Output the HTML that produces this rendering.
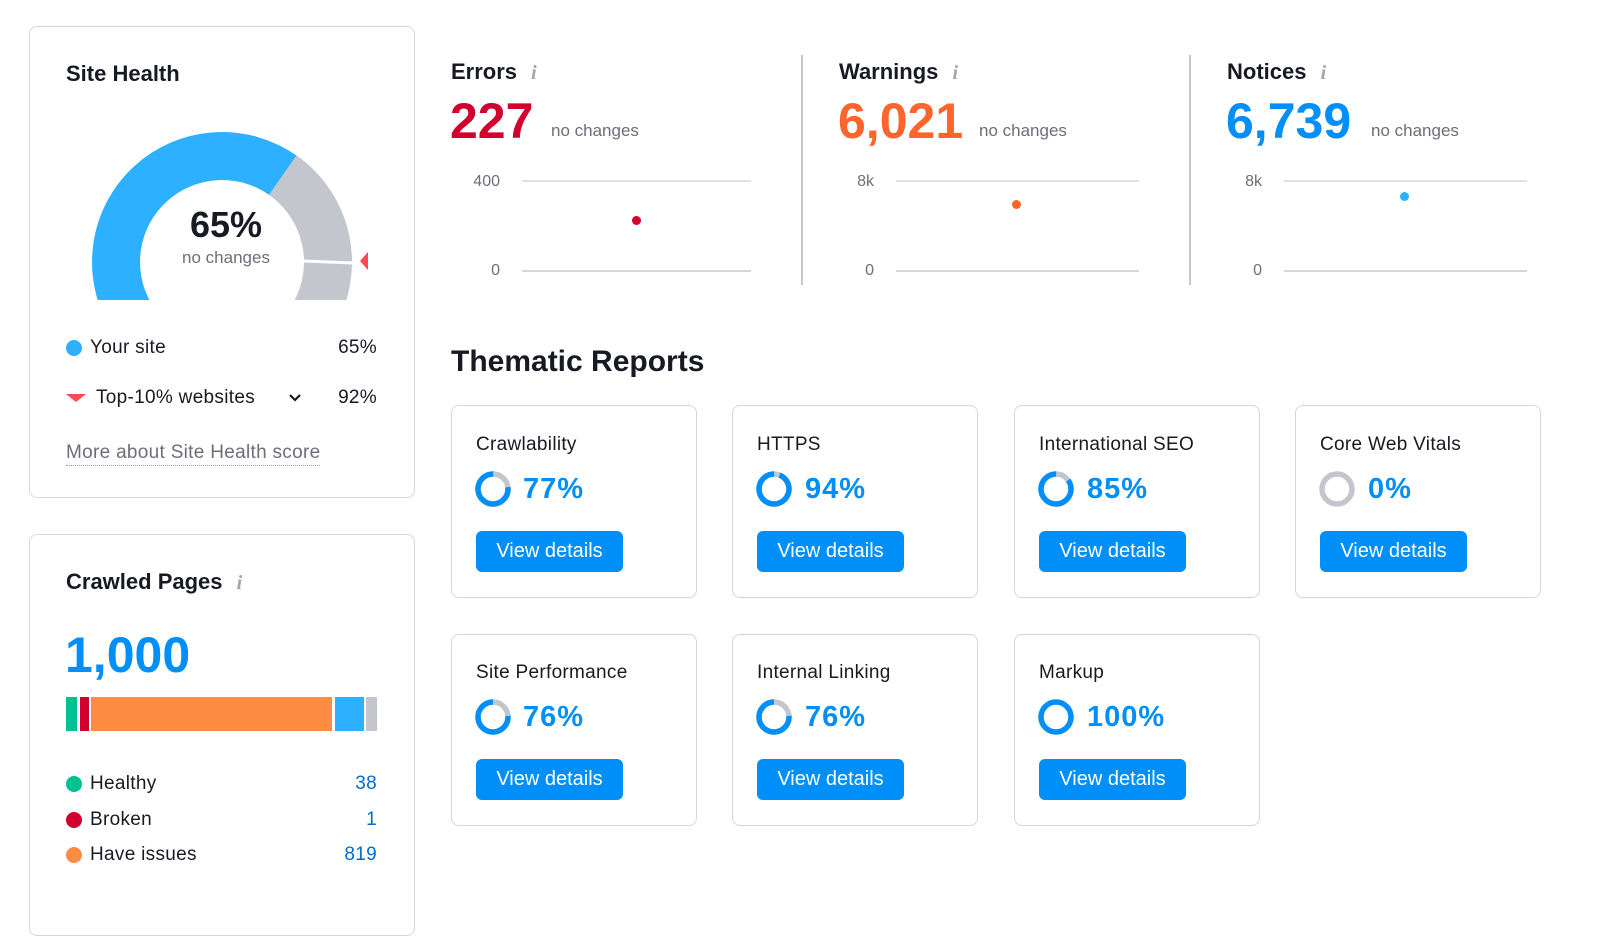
<!DOCTYPE html>
<html><head><meta charset="utf-8"><style>
body{margin:0;width:1600px;height:903px;background:#fff;position:relative;overflow:hidden;font-family:"Liberation Sans",sans-serif;color:#171a22}
.a{position:absolute;white-space:nowrap}
.box{position:absolute;border:1px solid #d6d7dc;border-radius:8px;background:#fff}
.h{font-weight:bold;font-size:22px;line-height:24px}
.g{color:#6c6e79}
.i{font-family:"Liberation Serif",serif;font-style:italic;color:#a3a5ad;font-size:20px}
.btn{position:absolute;background:#008ff8;color:#fff;border-radius:6px;font-size:20px;line-height:41px;text-align:center;width:147px}
.pct{font-size:29px;font-weight:bold;color:#008ff8;line-height:32px;letter-spacing:1px}
.t{font-size:19px;line-height:22px;letter-spacing:0.3px}
</style></head><body>
<div class="box" style="left:29px;top:26px;width:384px;height:470px"></div>
<div class="box" style="left:29px;top:534px;width:384px;height:400px"></div>
<div class="a h" style="left:66px;top:62px">Site Health</div>
<svg class="a" style="left:0;top:0" width="420" height="320">
<defs><clipPath id="c"><rect x="0" y="0" width="420" height="300"/></clipPath></defs>
<g clip-path="url(#c)" fill="none" stroke-width="48">
<path d="M130.2 315 A106 106 0 0 1 282.8 175.2" stroke="#2cb0ff"/>
<path d="M282.8 175.2 A106 106 0 0 1 313.8 315" stroke="#c4c6cd"/>
</g>
<line x1="304" y1="261" x2="353" y2="263" stroke="#fff" stroke-width="3"/>
<polygon points="360,261 368,252 368,270" fill="#ff4953"/>
</svg>
<div class="a" style="left:126px;width:200px;text-align:center;top:205px;font-size:36px;font-weight:bold;line-height:40px">65%</div>
<div class="a g" style="left:126px;width:200px;text-align:center;top:248px;font-size:17px;line-height:20px">no changes</div>
<div class="a" style="left:66px;top:340px;width:16px;height:16px;border-radius:50%;background:#2cb0ff"></div>
<div class="a t" style="left:90px;top:337px">Your site</div>
<div class="a t" style="left:300px;width:77px;text-align:right;top:337px">65%</div>
<svg class="a" style="left:66px;top:393px" width="20" height="12"><polygon points="0,1 20,1 10,9" fill="#ff4953"/></svg>
<div class="a t" style="left:96px;top:387px">Top-10% websites</div>
<svg class="a" style="left:288px;top:393px" width="14" height="10"><polyline points="2,2 7,7 12,2" fill="none" stroke="#171a22" stroke-width="2.2"/></svg>
<div class="a t" style="left:300px;width:77px;text-align:right;top:387px">92%</div>
<div class="a t g" style="left:66px;top:442px;border-bottom:1.5px dotted #9a9ca5;padding-bottom:1px">More about Site Health score</div>
<div class="a h" style="left:66px;top:570px">Crawled Pages <span class="i" style="margin-left:8px">i</span></div>
<div class="a" style="left:65px;top:628px;font-size:50px;font-weight:bold;color:#008ff8;line-height:54px">1,000</div>
<div class="a" style="left:66px;top:697px;width:11px;height:34px;background:#00c192"></div>
<div class="a" style="left:80px;top:697px;width:9px;height:34px;background:#d1002f"></div>
<div class="a" style="left:91px;top:697px;width:241px;height:34px;background:#ff8c43"></div>
<div class="a" style="left:335px;top:697px;width:29px;height:34px;background:#2cb0ff"></div>
<div class="a" style="left:366px;top:697px;width:11px;height:34px;background:#c4c6cd"></div>
<div class="a" style="left:66px;top:776px;width:16px;height:16px;border-radius:50%;background:#00c192"></div>
<div class="a t" style="left:90px;top:773px">Healthy</div>
<div class="a t" style="left:300px;width:77px;text-align:right;top:773px;color:#006dca">38</div>
<div class="a" style="left:66px;top:812px;width:16px;height:16px;border-radius:50%;background:#d1002f"></div>
<div class="a t" style="left:90px;top:809px">Broken</div>
<div class="a t" style="left:300px;width:77px;text-align:right;top:809px;color:#006dca">1</div>
<div class="a" style="left:66px;top:847px;width:16px;height:16px;border-radius:50%;background:#ff8c43"></div>
<div class="a t" style="left:90px;top:844px">Have issues</div>
<div class="a t" style="left:300px;width:77px;text-align:right;top:844px;color:#006dca">819</div>

<!-- top metrics -->
<div class="a" style="left:801px;top:55px;width:2px;height:230px;background:#c4c6cd"></div>
<div class="a" style="left:1189px;top:55px;width:2px;height:230px;background:#c4c6cd"></div>

<div class="a h" style="left:451px;top:60px">Errors <span class="i" style="margin-left:8px">i</span></div>
<div class="a" style="left:450px;top:94px;font-size:50px;font-weight:bold;color:#d1002f;line-height:54px">227</div>
<div class="a g" style="left:551px;top:121px;font-size:17px;line-height:20px">no changes</div>
<div class="a g" style="left:440px;width:60px;text-align:right;top:173px;font-size:16px">400</div>
<div class="a g" style="left:440px;width:60px;text-align:right;top:262px;font-size:16px">0</div>
<div class="a" style="left:522px;top:180px;width:229px;height:2px;background:#e0e1e5"></div>
<div class="a" style="left:522px;top:270px;width:229px;height:2px;background:#d6d7dc"></div>
<div class="a" style="left:632px;top:216px;width:9px;height:9px;border-radius:50%;background:#d1002f"></div>

<div class="a h" style="left:839px;top:60px">Warnings <span class="i" style="margin-left:8px">i</span></div>
<div class="a" style="left:838px;top:94px;font-size:50px;font-weight:bold;color:#ff642d;line-height:54px">6,021</div>
<div class="a g" style="left:979px;top:121px;font-size:17px;line-height:20px">no changes</div>
<div class="a g" style="left:814px;width:60px;text-align:right;top:173px;font-size:16px">8k</div>
<div class="a g" style="left:814px;width:60px;text-align:right;top:262px;font-size:16px">0</div>
<div class="a" style="left:896px;top:180px;width:243px;height:2px;background:#e0e1e5"></div>
<div class="a" style="left:896px;top:270px;width:243px;height:2px;background:#d6d7dc"></div>
<div class="a" style="left:1012px;top:200px;width:9px;height:9px;border-radius:50%;background:#ff642d"></div>

<div class="a h" style="left:1227px;top:60px">Notices <span class="i" style="margin-left:8px">i</span></div>
<div class="a" style="left:1226px;top:94px;font-size:50px;font-weight:bold;color:#008ff8;line-height:54px">6,739</div>
<div class="a g" style="left:1371px;top:121px;font-size:17px;line-height:20px">no changes</div>
<div class="a g" style="left:1202px;width:60px;text-align:right;top:173px;font-size:16px">8k</div>
<div class="a g" style="left:1202px;width:60px;text-align:right;top:262px;font-size:16px">0</div>
<div class="a" style="left:1284px;top:180px;width:243px;height:2px;background:#e0e1e5"></div>
<div class="a" style="left:1284px;top:270px;width:243px;height:2px;background:#d6d7dc"></div>
<div class="a" style="left:1400px;top:192px;width:9px;height:9px;border-radius:50%;background:#2cb0ff"></div>

<div class="a" style="left:451px;top:345px;font-size:30px;font-weight:bold;line-height:34px">Thematic Reports</div>

<!-- cards -->
<div class="box" style="left:451px;top:405px;width:244px;height:191px"></div>
<div class="box" style="left:732px;top:405px;width:244px;height:191px"></div>
<div class="box" style="left:1014px;top:405px;width:244px;height:191px"></div>
<div class="box" style="left:1295px;top:405px;width:244px;height:191px"></div>
<div class="box" style="left:451px;top:634px;width:244px;height:190px"></div>
<div class="box" style="left:732px;top:634px;width:244px;height:190px"></div>
<div class="box" style="left:1014px;top:634px;width:244px;height:190px"></div>

<div class="a t" style="left:476px;top:434px">Crawlability</div>
<div class="a t" style="left:757px;top:434px">HTTPS</div>
<div class="a t" style="left:1039px;top:434px">International SEO</div>
<div class="a t" style="left:1320px;top:434px">Core Web Vitals</div>
<div class="a t" style="left:476px;top:662px">Site Performance</div>
<div class="a t" style="left:757px;top:662px">Internal Linking</div>
<div class="a t" style="left:1039px;top:662px">Markup</div>

<svg class="a" style="left:0;top:0" width="1600" height="903" fill="none" stroke-width="5.5">
<g transform="translate(493,489) rotate(-90)">
<circle r="15" stroke="#c4c6cd"/><circle r="15" stroke="#008ff8" stroke-dasharray="72.6 100" transform="rotate(83)"/></g>
<g transform="translate(774,489) rotate(-90)">
<circle r="15" stroke="#c4c6cd"/><circle r="15" stroke="#008ff8" stroke-dasharray="88.6 100" transform="rotate(21.6)"/></g>
<g transform="translate(1056,489) rotate(-90)">
<circle r="15" stroke="#c4c6cd"/><circle r="15" stroke="#008ff8" stroke-dasharray="80.1 100" transform="rotate(54)"/></g>
<g transform="translate(1337,489)"><circle r="15" stroke="#c4c6cd"/></g>
<g transform="translate(493,717) rotate(-90)">
<circle r="15" stroke="#c4c6cd"/><circle r="15" stroke="#008ff8" stroke-dasharray="71.6 100" transform="rotate(86)"/></g>
<g transform="translate(774,717) rotate(-90)">
<circle r="15" stroke="#c4c6cd"/><circle r="15" stroke="#008ff8" stroke-dasharray="71.6 100" transform="rotate(86)"/></g>
<g transform="translate(1056,717)"><circle r="15" stroke="#008ff8"/></g>
</svg>

<div class="a pct" style="left:523px;top:473px">77%</div>
<div class="a pct" style="left:805px;top:473px">94%</div>
<div class="a pct" style="left:1087px;top:473px">85%</div>
<div class="a pct" style="left:1368px;top:473px">0%</div>
<div class="a pct" style="left:523px;top:701px">76%</div>
<div class="a pct" style="left:805px;top:701px">76%</div>
<div class="a pct" style="left:1087px;top:701px">100%</div>

<div class="btn" style="left:476px;top:531px">View details</div>
<div class="btn" style="left:757px;top:531px">View details</div>
<div class="btn" style="left:1039px;top:531px">View details</div>
<div class="btn" style="left:1320px;top:531px">View details</div>
<div class="btn" style="left:476px;top:759px">View details</div>
<div class="btn" style="left:757px;top:759px">View details</div>
<div class="btn" style="left:1039px;top:759px">View details</div>
</body></html>
